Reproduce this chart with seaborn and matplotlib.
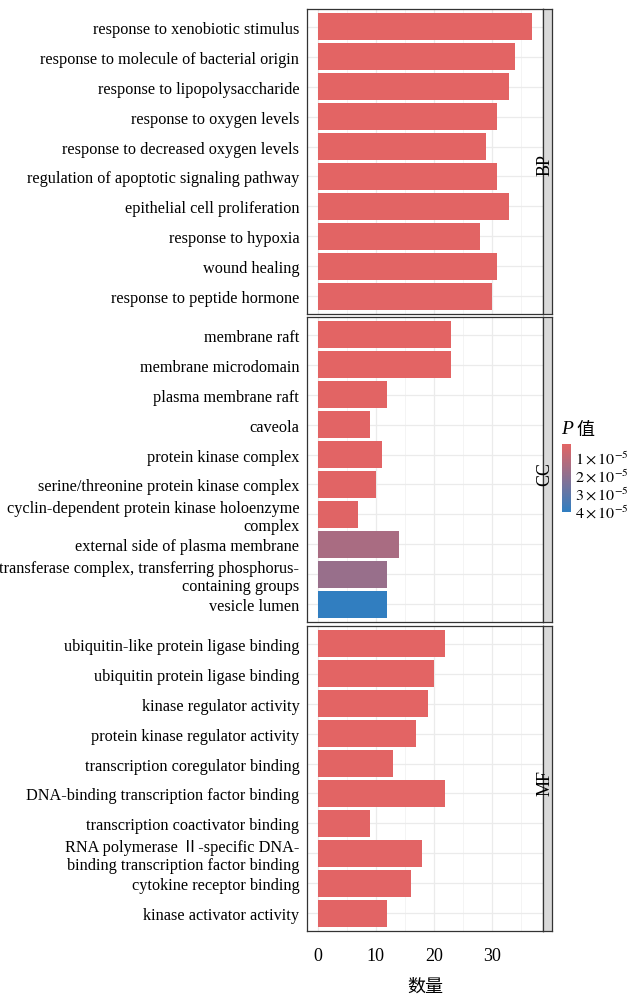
import numpy as np
import pandas as pd
import matplotlib
matplotlib.use("Agg")
import matplotlib.pyplot as plt
import matplotlib.colors as mcolors
import seaborn as sns

# --- Data ---
bp_terms = [
    "response to xenobiotic stimulus",
    "response to molecule of bacterial origin",
    "response to lipopolysaccharide",
    "response to oxygen levels",
    "response to decreased oxygen levels",
    "regulation of apoptotic signaling pathway",
    "epithelial cell proliferation",
    "response to hypoxia",
    "wound healing",
    "response to peptide hormone",
]
bp_counts = [37, 34, 33, 31, 29, 31, 33, 28, 31, 30]
bp_p = [0.28e-5, 0.28e-5, 0.28e-5, 0.29e-5, 0.29e-5, 0.29e-5, 0.30e-5, 0.30e-5, 0.30e-5, 0.31e-5]

cc_terms = [
    "membrane raft",
    "membrane microdomain",
    "plasma membrane raft",
    "caveola",
    "protein kinase complex",
    "serine/threonine protein kinase complex",
    "cyclin-dependent protein kinase holoenzyme\ncomplex",
    "external side of plasma membrane",
    "transferase complex, transferring phosphorus-\ncontaining groups",
    "vesicle lumen",
]
cc_counts = [23, 23, 12, 9, 11, 10, 7, 14, 12, 12]
cc_p = [0.28e-5, 0.28e-5, 0.30e-5, 0.31e-5, 0.32e-5, 0.33e-5, 0.35e-5, 1.5e-5, 1.85e-5, 4.0e-5]

mf_terms = [
    "ubiquitin-like protein ligase binding",
    "ubiquitin protein ligase binding",
    "kinase regulator activity",
    "protein kinase regulator activity",
    "transcription coregulator binding",
    "DNA-binding transcription factor binding",
    "transcription coactivator binding",
    "RNA polymerase Ⅱ-specific DNA-\nbinding transcription factor binding",
    "cytokine receptor binding",
    "kinase activator activity",
]
mf_counts = [22, 20, 19, 17, 13, 22, 9, 18, 16, 12]
mf_p = [0.28e-5, 0.28e-5, 0.29e-5, 0.29e-5, 0.30e-5, 0.30e-5, 0.31e-5, 0.31e-5, 0.32e-5, 0.32e-5]

groups = ["BP", "CC", "MF"]
cbar_ticks = [1e-5, 2e-5, 3e-5, 4e-5]
cbar_labels = [r"$1\times10^{-5}$", r"$2\times10^{-5}$", r"$3\times10^{-5}$", r"$4\times10^{-5}$"]

# --- Style ---
sns.set_style("white")
plt.rcParams["font.family"] = ["Liberation Serif", "Noto Sans CJK SC"]
plt.rcParams["mathtext.fontset"] = "stix"
plt.rcParams["text.color"] = "black"
plt.rcParams["xtick.color"] = "black"
plt.rcParams["ytick.color"] = "black"
plt.rcParams["axes.labelcolor"] = "black"

cmap = mcolors.LinearSegmentedColormap.from_list("pval", ["#E36464", "#2F7EC1"])
norm = mcolors.Normalize(vmin=0.28e-5, vmax=4.05e-5)

df = pd.concat([
    pd.DataFrame({"term": bp_terms, "count": bp_counts, "p": bp_p, "group": "BP"}),
    pd.DataFrame({"term": cc_terms, "count": cc_counts, "p": cc_p, "group": "CC"}),
    pd.DataFrame({"term": mf_terms, "count": mf_counts, "p": mf_p, "group": "MF"}),
], ignore_index=True)

fig = plt.figure(figsize=(6.3, 9.95), dpi=100)

W, H = 630, 995
panel_left, panel_right, strip_right = 307, 543, 552
panel_tops = [10, 318, 627]
panel_h = 305

xmax = 37 * 1.05
xmin = -37 * 0.05

for i, g in enumerate(groups):
    sub = df[df["group"] == g].reset_index(drop=True)
    top = panel_tops[i]
    ax = fig.add_axes([panel_left / W, 1 - (top + panel_h) / H,
                       (panel_right - panel_left) / W, panel_h / H])
    colors = [cmap(norm(v)) for v in sub["p"]]
    sns.barplot(data=sub, x="count", y="term", hue="term", palette=colors,
                dodge=False, legend=False, width=0.9, saturation=1,
                edgecolor="none", ax=ax, zorder=3)
    ax.set_xlim(xmin, xmax)
    ax.set_ylim(len(sub) - 0.4, -0.6)
    ax.set_yticks(range(len(sub)), labels=list(sub["term"]), linespacing=1.15)
    ax.set_xticks([0, 10, 20, 30])
    ax.set_xticks([5, 15, 25, 35], minor=True)
    ax.grid(True, which="major", color="#EBEBEB", lw=0.9, zorder=0)
    ax.grid(True, which="minor", axis="x", color="#F3F3F3", lw=0.6, zorder=0)
    ax.set_axisbelow(True)
    for s in ax.spines.values():
        s.set_color("#333333")
        s.set_linewidth(0.9)
    ax.set_ylabel("")
    ax.set_xlabel("")
    ax.tick_params(axis="y", length=2.5, color="#333333", labelsize=11.7, pad=3)
    ax.tick_params(axis="x", which="minor", length=0)
    if i < 2:
        ax.tick_params(axis="x", length=0, labelbottom=False)
    else:
        ax.tick_params(axis="x", length=2.5, color="#333333", labelsize=13, pad=9)
        ax.set_xlabel("数量", fontsize=13, labelpad=10)

    sax = fig.add_axes([panel_right / W, 1 - (top + panel_h) / H,
                        (strip_right - panel_right) / W, panel_h / H])
    sax.set_facecolor("#D9D9D9")
    sax.set_xticks([])
    sax.set_yticks([])
    for s in sax.spines.values():
        s.set_color("#333333")
        s.set_linewidth(0.9)
    fig.text(545 / W, 1 - (top + panel_h / 2 + 3) / H, g, rotation=90,
             ha="center", va="center", fontsize=13)

# --- Colour bar legend ---
cax = fig.add_axes([562 / W, 1 - 513 / H, 9 / W, 68 / H])
sm = plt.cm.ScalarMappable(norm=norm, cmap=cmap)
cb = fig.colorbar(sm, cax=cax, ticks=cbar_ticks)
cb.outline.set_visible(False)
cax.invert_yaxis()
cb.set_ticklabels(cbar_labels)
cax.tick_params(length=2, color="white", direction="in", labelsize=11.5, pad=3)

fig.text(561 / W, 1 - 430 / H, "P", fontsize=14, style="italic",
         family="Liberation Serif", ha="left", va="center")
fig.text(576 / W, 1 - 430 / H, "值", fontsize=13,
         family="Noto Sans CJK SC", ha="left", va="center")

fig.savefig("out.png", dpi=100)
